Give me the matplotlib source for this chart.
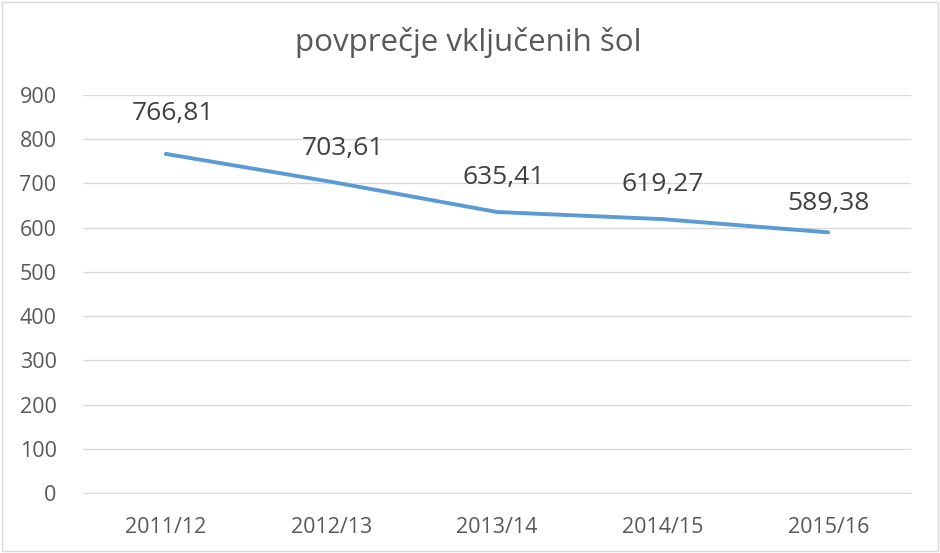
import matplotlib.pyplot as plt

# podatki
leta = ['2011/12', '2012/13', '2013/14', '2014/15', '2015/16']
povprecje = [766.81, 703.61, 635.41, 619.27, 589.38]
oznake = ['766,81', '703,61', '635,41', '619,27', '589,38']

plt.rcParams['font.family'] = ['Open Sans', 'DejaVu Sans']

fig = plt.figure(figsize=(9.4, 5.53), dpi=100)
ax = fig.add_axes([83/940, 1 - 493/553, (911-83)/940, (493-95)/553])

x = range(len(leta))
ax.plot(x, povprecje, color='#5B9BD5', linewidth=2.8, solid_capstyle='round')

# odmiki oznak (v točkah)
odmiki_x = [5, 8, 5, 0, 0]
odmiki_y = [29, 24, 25, 25, 21]
for i, (v, t) in enumerate(zip(povprecje, oznake)):
    ax.annotate(t, (i, v), xytext=(odmiki_x[i], odmiki_y[i]), textcoords='offset points',
                ha='center', va='center', fontsize=19, color='#404040')

ax.set_xlim(-0.5, 4.5)
ax.set_ylim(0, 900)
ax.set_yticks(range(0, 901, 100))
ax.set_xticks(list(x))
ax.set_xticklabels(leta)
ax.tick_params(axis='y', labelsize=15.5, labelcolor='#595959', length=0, pad=19)
ax.tick_params(axis='x', labelsize=15.5, labelcolor='#595959', length=0, pad=17)
ax.grid(axis='y', color='#D9D9D9', linewidth=1)
ax.set_axisbelow(True)
for s in ['top', 'right', 'left']:
    ax.spines[s].set_visible(False)
ax.spines['bottom'].set_color('#D9D9D9')

fig.text(468/940, 1 - 42/553, 'povprečje vključenih šol', ha='center', va='center',
         fontsize=22.5, color='#595959')

fig.patches.append(plt.Rectangle((0.002, 0.003), 0.996, 0.994, transform=fig.transFigure,
                                 fill=False, edgecolor='#D9D9D9', linewidth=1))

fig.savefig('out.png', dpi=100)
